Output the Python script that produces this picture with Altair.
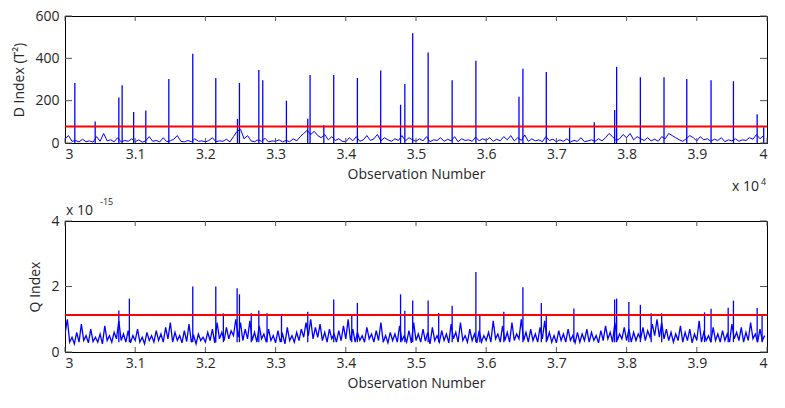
import altair as alt
import pandas as pd

X_START = 30000
X_END = 40000
X_TICKS = [30000, 31000, 32000, 33000, 34000, 35000, 36000, 37000, 38000, 39000, 40000]

# ---- D index (T^2): background trace, one value every 50 observations ----
D_BASE = [
    20, 35, 8, 12, 5, 18, 6, 10, 4, 30, 8, 45, 10, 15, 6, 25, 5, 12, 8, 20,
    6, 15, 4, 10, 30, 8, 12, 5, 25, 6, 10, 18, 35, 8, 5, 12, 6, 20, 8, 10,
    5, 12, 25, 6, 10, 8, 18, 5, 30, 55, 65, 20, 35, 10, 6, 15, 8, 22, 5, 10,
    8, 15, 5, 12, 6, 20, 10, 30, 45, 60, 40, 55, 35, 25, 40, 15, 30, 12, 20, 8,
    6, 25, 10, 30, 8, 15, 35, 12, 20, 40, 10, 25, 15, 8, 20, 12, 35, 10, 25, 15,
    8, 20, 10, 30, 6, 15, 12, 25, 8, 18, 10, 30, 6, 20, 12, 15, 8, 28, 10, 20,
    12, 25, 8, 18, 10, 30, 15, 35, 10, 25, 12, 38, 8, 20, 10, 15, 6, 30, 12, 18,
    6, 15, 8, 20, 5, 12, 8, 25, 6, 10, 15, 8, 20, 10, 25, 45, 30, 12, 20, 40,
    25, 45, 15, 30, 20, 12, 25, 10, 18, 8, 30, 20, 45, 35, 25, 15, 8, 20, 35, 25,
    10, 30, 15, 20, 8, 18, 12, 25, 6, 15, 10, 20, 8, 15, 12, 25, 18, 40, 20, 35,
]
D_STEP = 50
D_SPIKE_X = [30140, 30430, 30767, 30814, 30978, 31151, 31479, 31820, 32148, 32457,
             32485, 32761, 32817, 33154, 33458, 33491, 33687, 33828, 34165, 34497,
             34780, 34841, 34953, 35173, 35515, 35853, 36467, 36523, 36856, 37188,
             37540, 37830, 37858, 38196, 38533, 38857, 39203, 39522, 39860, 39953]
D_SPIKE_Y = [283, 102, 215, 273, 147, 153, 302, 422, 307, 114,
             284, 345, 296, 200, 114, 321, 84, 321, 307, 342,
             181, 279, 519, 427, 296, 388, 218, 351, 336, 73,
             98, 156, 360, 311, 311, 302, 296, 292, 136, 74]
D_LIMIT = 78
D_TICKS = [0, 200, 400, 600]

# ---- Q index (x 1e-15): background trace, 300 values ----
Q_BASE = [
    0.55, 1.0, 0.3, 0.45, 0.25, 0.6, 0.3, 0.85, 0.35, 0.5, 0.28, 0.7, 0.32, 0.45, 0.3, 0.55, 0.25, 0.8, 0.35, 0.5,
    0.3, 0.6, 0.4, 0.95, 0.35, 0.55, 0.3, 0.65, 0.28, 0.5, 0.35, 0.7, 0.3, 0.45, 0.25, 0.6, 0.35, 0.5, 0.3, 0.65,
    0.35, 0.55, 0.3, 0.75, 0.4, 0.9, 0.3, 0.6, 0.35, 0.5, 0.28, 0.65, 0.32, 0.85, 0.3, 0.5, 0.25, 0.55, 0.35, 0.45,
    0.3, 0.6, 0.35, 0.7, 0.28, 0.9, 0.4, 0.6, 0.35, 0.75, 0.4, 0.65, 0.5, 1.0, 0.45, 0.9, 0.35, 0.7, 0.4, 0.95,
    0.35, 0.6, 0.3, 0.8, 0.4, 0.55, 0.3, 0.7, 0.35, 0.5, 0.28, 0.65, 0.3, 0.55, 0.25, 0.75, 0.35, 0.5, 0.3, 0.6,
    0.35, 0.7, 0.45, 0.9, 0.5, 1.0, 0.4, 0.75, 0.45, 0.85, 0.35, 0.6, 0.3, 0.7, 0.4, 0.55, 0.3, 0.65, 0.35, 0.8,
    0.4, 1.0, 0.35, 0.7, 0.3, 0.6, 0.35, 0.5, 0.3, 0.75, 0.4, 0.55, 0.3, 0.65, 0.35, 0.9, 0.3, 0.5, 0.28, 0.6,
    0.35, 0.55, 0.3, 0.8, 0.35, 0.5, 0.3, 0.65, 0.28, 0.9, 0.35, 0.55, 0.3, 0.7, 0.33, 0.6, 0.25, 0.75, 0.35, 0.5,
    0.3, 0.65, 0.35, 0.55, 0.28, 0.85, 0.4, 0.6, 0.3, 0.9, 0.35, 0.5, 0.3, 0.7, 0.35, 0.55, 0.28, 0.65, 0.3, 0.5,
    0.35, 0.6, 0.3, 0.95, 0.4, 0.55, 0.3, 0.8, 0.35, 0.6, 0.3, 0.9, 0.35, 0.55, 0.4, 1.0, 0.35, 0.6, 0.3, 0.7,
    0.35, 0.55, 0.3, 0.75, 0.4, 0.95, 0.35, 0.6, 0.3, 0.5, 0.28, 0.65, 0.35, 0.55, 0.3, 0.7, 0.35, 0.5, 0.28, 0.6,
    0.3, 0.55, 0.35, 0.7, 0.3, 0.6, 0.35, 0.5, 0.28, 0.65, 0.35, 0.8, 0.4, 0.6, 0.3, 0.9, 0.35, 0.55, 0.4, 0.75,
    0.35, 0.7, 0.3, 0.6, 0.35, 0.55, 0.4, 0.75, 0.35, 0.65, 0.45, 0.85, 0.5, 1.0, 0.45, 0.9, 0.4, 0.7, 0.35, 0.6,
    0.3, 0.55, 0.35, 0.8, 0.3, 0.6, 0.35, 0.7, 0.28, 0.55, 0.35, 0.95, 0.3, 0.6, 0.35, 0.5, 0.3, 0.75, 0.35, 0.55,
    0.3, 0.65, 0.35, 0.55, 0.3, 0.85, 0.4, 0.6, 0.35, 0.75, 0.3, 0.6, 0.35, 0.9, 0.4, 0.55, 0.3, 0.7, 0.35, 0.5,
]
Q_STEP = 10000 / 300
Q_SPIKE_X = [30767, 30917, 31820, 32148, 32256, 32452, 32485, 32653, 32761, 32878,
             33084, 33458, 33828, 34085, 34165, 34780, 34841, 34953, 35173, 35323,
             35515, 35853, 35909, 36251, 36523, 36785, 36856, 37249, 37830, 37858,
             38032, 38196, 38350, 38500, 39110, 39203, 39447, 39522, 39860, 39930]
Q_SPIKE_Y = [1.27, 1.63, 2.0, 2.0, 1.18, 1.95, 1.76, 1.18, 1.27, 1.18,
             1.13, 1.23, 1.6, 1.1, 1.5, 1.76, 1.26, 1.57, 1.57, 1.19,
             1.41, 2.44, 1.1, 1.23, 1.98, 1.5, 1.1, 1.33, 1.6, 1.63,
             1.53, 1.44, 1.18, 1.18, 1.21, 1.32, 1.35, 1.57, 1.34, 1.1]
Q_SPIKE_BASE = 0.3
Q_LIMIT = 1.13
Q_TICKS = [0, 2, 4]

W = 702
FONT = "Open Sans"
FS = 14
TXT = "#262626"
BLUE = "#0000ff"
RED = "#ff0000"


def panel(base_vals, step, sx, sy, sbase, limit, ydom, yticks, ytitle, H, exp_text, exp_pos, lw):
    base_df = pd.DataFrame({"x": [X_START + i * step for i in range(len(base_vals))], "v": base_vals})
    spike_df = pd.DataFrame({"x": sx, "v": sy, "b": [sbase] * len(sx)})
    lim_df = pd.DataFrame({"v": [limit]})
    xt_df = pd.DataFrame({"x": X_TICKS})
    yt_df = pd.DataFrame({"v": yticks})

    xs = alt.Scale(domain=[X_START, X_END], nice=False, zero=False)
    ys = alt.Scale(domain=ydom, nice=False)
    xa = alt.Axis(values=X_TICKS, labelExpr="format(datum.value / 10000, '~g')",
                  ticks=False, grid=False, domainColor="black", labelPadding=4, titlePadding=6)
    ya = alt.Axis(values=yticks, ticks=False, grid=False,
                  domainColor="black", labelPadding=6, titlePadding=8)

    def X():
        return alt.X("x:Q", scale=xs, axis=xa, title="Observation Number")

    def Y():
        return alt.Y("v:Q", scale=ys, axis=ya, title=ytitle)

    line = alt.Chart(base_df).mark_line(color=BLUE, strokeWidth=lw, clip=True).encode(x=X(), y=Y())
    spikes = alt.Chart(spike_df).mark_rule(color=BLUE, strokeWidth=1.3, clip=True).encode(
        x=X(), y=Y(), y2="b:Q")
    lim = alt.Chart(lim_df).mark_rule(color=RED, strokeWidth=2).encode(y=Y())
    tick_top = alt.Chart(xt_df).mark_rule(color="#555555", strokeWidth=1).encode(
        x=X(), y=alt.value(0), y2=alt.value(5))
    tick_bot = alt.Chart(xt_df).mark_rule(color="#555555", strokeWidth=1).encode(
        x=X(), y=alt.value(H), y2=alt.value(H - 5))
    tick_l = alt.Chart(yt_df).mark_rule(color="#555555", strokeWidth=1).encode(
        y=Y(), x=alt.value(0), x2=alt.value(7))
    tick_r = alt.Chart(yt_df).mark_rule(color="#555555", strokeWidth=1).encode(
        y=Y(), x=alt.value(W), x2=alt.value(W - 7))

    main_df = pd.DataFrame({"s": ["x 10"]})
    sup_df = pd.DataFrame({"s": [exp_text]})
    (mx, my, align, sx2, sy2) = exp_pos
    t_main = alt.Chart(main_df).mark_text(font=FONT, fontSize=FS, color=TXT, align=align,
                                          baseline="alphabetic").encode(
        x=alt.value(mx), y=alt.value(my), text="s:N")
    t_sup = alt.Chart(sup_df).mark_text(font=FONT, fontSize=9, color=TXT, align="left",
                                        baseline="alphabetic").encode(
        x=alt.value(sx2), y=alt.value(sy2), text="s:N")

    return alt.layer(line, spikes, lim, tick_top, tick_bot, tick_l, tick_r, t_main, t_sup).properties(
        width=W, height=H)


H_TOP = 127
H_BOT = 131
top = panel(D_BASE, D_STEP, D_SPIKE_X, D_SPIKE_Y, 0, D_LIMIT, [0, 600], D_TICKS,
            "D Index (T²)", H_TOP, "4", (W - 8, H_TOP + 48, "right", W - 6, H_TOP + 42), 1.0)
bottom = panel(Q_BASE, Q_STEP, Q_SPIKE_X, Q_SPIKE_Y, Q_SPIKE_BASE, Q_LIMIT, [0, 4], Q_TICKS,
               "Q Index", H_BOT, "-15", (1, -6, "left", 35, -16), 1.3)

chart = alt.vconcat(top, bottom, spacing=2).properties(
    padding={"left": 4, "top": 0, "right": 0, "bottom": 0}
).configure(background="white").configure_view(
    stroke="black", strokeWidth=1
).configure_axis(
    labelFont=FONT, titleFont=FONT, labelFontSize=FS, titleFontSize=FS,
    labelColor=TXT, titleColor=TXT, titleFontWeight="normal", domainWidth=1
)

chart.save("out.html", embed_options={"renderer": "svg", "actions": False})
